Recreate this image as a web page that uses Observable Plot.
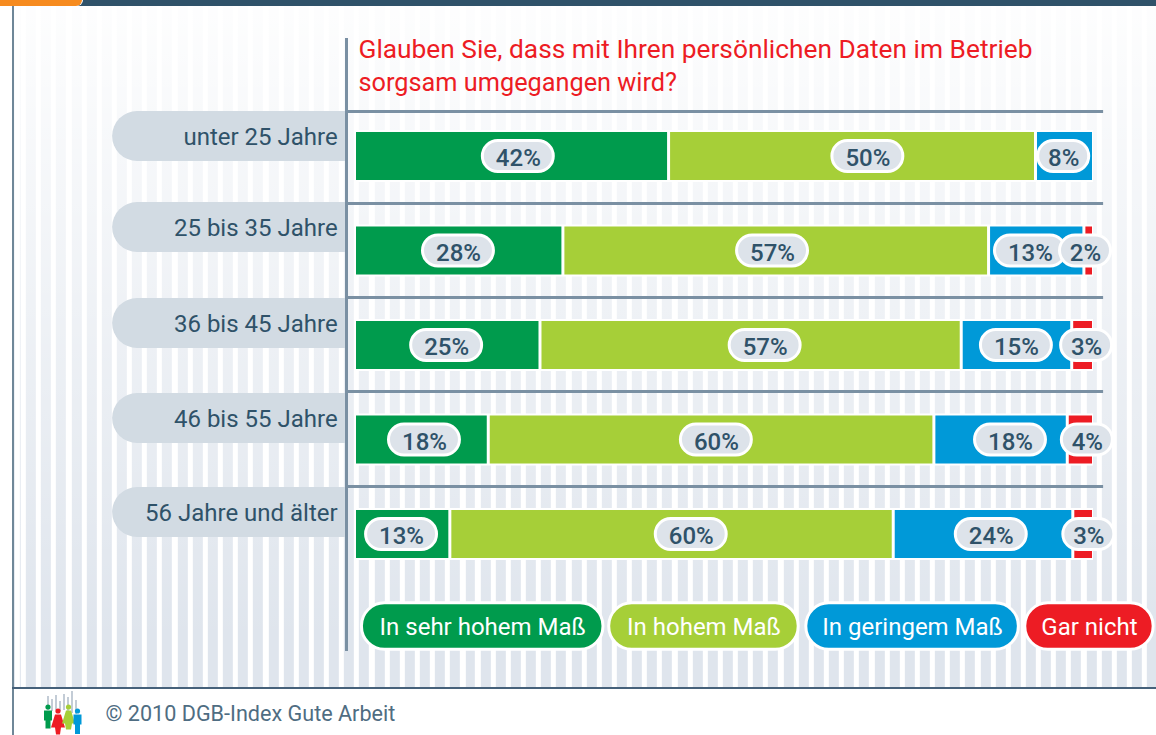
<!DOCTYPE html>
<html lang="de">
<head>
<meta charset="utf-8">
<script src="https://cdn.jsdelivr.net/npm/d3@7"></script>
<script src="https://cdn.jsdelivr.net/npm/@observablehq/plot@0.6"></script>
<style>
html,body{margin:0;padding:0;background:#fff;overflow:hidden}
#page{position:relative;width:1156px;height:735px;overflow:hidden;background:#fff}
#stripes{position:absolute;left:14px;top:6px;right:0;height:681px;
 background:
  linear-gradient(to bottom,rgba(255,255,255,.95),rgba(255,255,255,0) 93%),
  repeating-linear-gradient(90deg,#fff 0,#fff 5.15px,#dfe5ed 5.15px,#dfe5ed 15.15px);
 background-position:0 0,6.85px 0;background-repeat:no-repeat,repeat}
#topbar{position:absolute;left:0;top:0;width:1156px;height:6px;background:#2f5269}
#tab{position:absolute;left:0;top:0;width:82px;height:6px;background:#f68b1f;border-bottom-right-radius:14px;box-shadow:1px 0 0 #fff}
#leftline{position:absolute;left:12px;top:6px;width:2px;height:729px;background:#6f8798}
#footline{position:absolute;left:12px;top:687px;width:1144px;height:1.5px;background:#46617a}
#icon{position:absolute;left:42px;top:690px}
#chart{position:absolute;left:0;top:0}
#chart svg{background:transparent}
</style>
</head>
<body>
<div id="page">
 <div id="stripes"></div><div id="topbar"></div><div id="tab"></div><div id="leftline"></div><div id="footline"></div>
 <svg id="icon" width="42" height="45" viewBox="0 0 42 45">
  <g fill="#c3ccd6">
   <rect x="5" y="6" width="2" height="14"/><rect x="9" y="9" width="2" height="12"/><rect x="13" y="5" width="2" height="15"/><rect x="17" y="11" width="2" height="10"/><rect x="21" y="4" width="2" height="16"/><rect x="25" y="7" width="2" height="14"/><rect x="29" y="1" width="2" height="22"/><rect x="33" y="10" width="2" height="14"/>
  </g>
  <circle cx="6" cy="17" r="2.6" fill="#009b4d"/><path d="M2 20.5h8v10h-1.5v8h-5v-8H2z" fill="#009b4d"/>
  <circle cx="16" cy="21" r="2.6" fill="#ed1c24"/><path d="M13 24.5h6l4 13h-4l-1 7h-4l-1-7H9z" fill="#ed1c24"/>
  <circle cx="26.5" cy="17" r="2.6" fill="#a6cf38"/><path d="M24 20.5h5l4 13h-3l-1 6h-5l-1-6h-3z" fill="#a6cf38"/>
  <circle cx="35.5" cy="21" r="2.6" fill="#0099d8"/><path d="M31.5 24.5h8v10H38v9.500h-5V34.500h-1.500z" fill="#0099d8"/>
 </svg>
 <div id="chart"></div>
</div>
<script>
const titleLines = ["Glauben Sie, dass mit Ihren persönlichen Daten im Betrieb", "sorgsam umgegangen wird?"];
const footer = "© 2010 DGB-Index Gute Arbeit";
const ages = ["unter 25 Jahre", "25 bis 35 Jahre", "36 bis 45 Jahre", "46 bis 55 Jahre", "56 Jahre und älter"];
const answers = ["In sehr hohem Maß", "In hohem Maß", "In geringem Maß", "Gar nicht"];
const colors = ["#009b4d", "#a6cf38", "#0099d8", "#ed1c24"];

// Bar lengths as measured in the picture (percent)
const sehrHoch = [42.5, 28.2, 25.1, 18.1, 12.9];
const hoch     = [49.65, 57.6, 57.0, 60.3, 60.0];
const gering   = [7.85, 12.9, 14.95, 18.05, 24.3];
const garNicht = [0, 1.3, 2.95, 3.55, 2.8];
const lengths = [sehrHoch, hoch, gering, garNicht];

// Printed labels
const labelSehrHoch = [42, 28, 25, 18, 13];
const labelHoch     = [50, 57, 57, 60, 60];
const labelGering   = [8, 13, 15, 18, 24];
const labelGarNicht = [null, 2, 3, 4, 3];
const printed = [labelSehrHoch, labelHoch, labelGering, labelGarNicht];

// Layout: where each label sits on the percent axis
const labelAt = [
  [22.1, 14.0, 12.4, 9.4, 6.3],
  [69.4, 56.5, 55.5, 48.9, 45.5],
  [95.9, 91.4, 89.5, 88.7, 86.1],
  [null, 98.85, 99.0, 99.1, 99.3]
];
const legendSpan = [[1.11, 33.45], [34.57, 59.87], [61.24, 89.66], [90.87, 107.9]];
const panelShift = [-20, -23.5, -22, -21.5, -22];
const ruleShift = [-45, -47.5, -48, -48.5, -48];

const segs = answers.flatMap((answer, a) => ages.map((age, r) => {
  const start = d3.sum(lengths.slice(0, a), s => s[r]);
  return {age, answer, a, r, start, end: start + lengths[a][r], label: printed[a][r], at: labelAt[a][r]};
})).filter(d => d.label !== null);

const ink = "#2f5269", font = "Roboto, sans-serif";
const LEG = "legend";
const panelMarks = ages.flatMap((age, i) => [
  Plot.barX([age], {y: d => d, x1: () => -32.8, x2: () => -20, fill: "#d2dbe3", rx: 25, insetTop: -1, insetBottom: -1, dy: panelShift[i]}),
  Plot.barX([age], {y: d => d, x1: () => -29.5, x2: () => -1.15, fill: "#d2dbe3", insetTop: -1, insetBottom: -1, dy: panelShift[i]}),
  Plot.ruleY([age], {y: d => d, x1: () => -1.15, x2: () => 101.3, stroke: "#7a90a3", strokeWidth: 3, dy: ruleShift[i]}),
  Plot.text([age], {y: d => d, x: () => -2.35, text: d => d, textAnchor: "end", fill: ink, fontSize: 24, fontFamily: font, dy: panelShift[i] + 1})
]);

const chart = Plot.plot({
  width: 1156, height: 735,
  marginTop: 0, marginRight: 0, marginBottom: 0, marginLeft: 0,
  style: {background: "transparent", overflow: "visible"},
  x: {domain: [0, 100], range: [354.5, 1093.5], axis: null},
  y: {domain: [...ages, LEG], range: [108.75, 675.75], paddingInner: 0.492, paddingOuter: 0.246, round: false, axis: null},
  color: {domain: answers, range: colors},
  marks: [
    ...panelMarks,
    Plot.ruleX([-1.15], {x: d => d, y1: () => ages[0], y2: () => LEG, stroke: "#7a90a3", strokeWidth: 3, insetTop: -94, insetBottom: 1.5}),
    Plot.barX(ages, {y: d => d, x1: () => 0, x2: () => 100, fill: "white", insetTop: -2, insetBottom: -2, insetLeft: 0.5, insetRight: 0.5}),
    Plot.barX(segs, {y: "age", x1: "start", x2: "end", fill: "answer", insetLeft: 1.5, insetRight: 1.5}),
    Plot.barX(segs, {y: "age",
      x1: d => d.at - (d.label < 10 ? 3.45 : 4.8),
      x2: d => d.at + (d.label < 10 ? 3.45 : 4.8),
      fill: "#dde3ea", stroke: "white", strokeWidth: 3, rx: 15.5, insetTop: 8.5, insetBottom: 8.5}),
    Plot.text(segs, {y: "age", x: "at", text: d => d.label + "%", fill: ink, fontSize: 24, fontWeight: 500, fontFamily: font, dy: 2}),
    Plot.barX(answers.map((answer, i) => ({answer, x1: legendSpan[i][0], x2: legendSpan[i][1]})), {
      y: () => LEG, x1: "x1", x2: "x2", fill: "answer", stroke: "white", strokeWidth: 3, rx: 23,
      insetTop: 0.75, insetBottom: 0.75, insetLeft: -1.25, insetRight: -1.25, dy: -2.5}),
    Plot.text(answers.map((answer, i) => ({answer, at: (legendSpan[i][0] + legendSpan[i][1]) / 2})), {
      y: () => LEG, x: "at", text: "answer", fill: "white", fontSize: 24, fontFamily: font, dy: -1.5}),
    Plot.text([titleLines[0]], {text: d => d, frameAnchor: "top-left", dx: 358, dy: 39, fill: "#ed1c24", fontSize: 26.3, fontFamily: font}),
    Plot.text([titleLines[1]], {text: d => d, frameAnchor: "top-left", dx: 358, dy: 73, fill: "#ed1c24", fontSize: 25.3, fontFamily: font}),
    Plot.text([footer], {text: d => d, frameAnchor: "top-left", dx: 105, dy: 705, fill: "#4f6d82", fontSize: 21.6, fontFamily: font})
  ]
});
document.getElementById("chart").appendChild(chart);
</script>
</body>
</html>
